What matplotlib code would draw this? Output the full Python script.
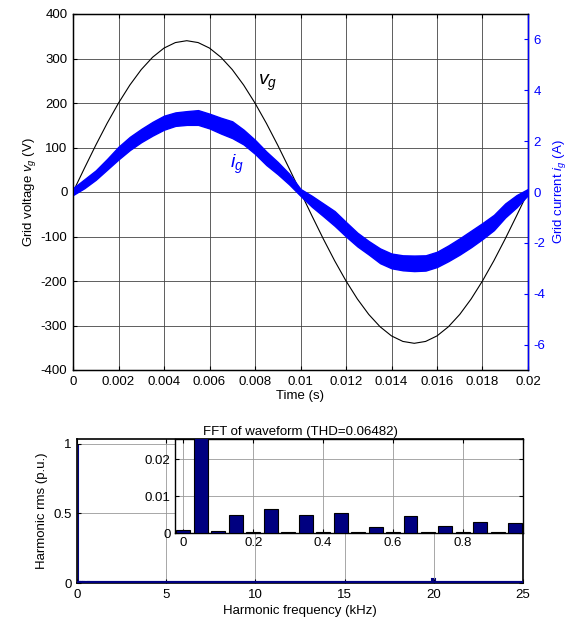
import matplotlib
matplotlib.use("Agg")
import matplotlib.pyplot as plt
import numpy as np

plt.rcParams['font.family'] = ['Liberation Sans', 'DejaVu Sans']
plt.rcParams['mathtext.fontset'] = 'custom'
plt.rcParams['mathtext.rm'] = 'Liberation Sans'
plt.rcParams['mathtext.it'] = 'Liberation Sans:italic'
plt.rcParams['font.size'] = 9.5
plt.rcParams['axes.unicode_minus'] = False

# ---------------- data ----------------
t = [0.0000, 0.0005, 0.0010, 0.0015, 0.0020, 0.0025, 0.0030, 0.0035, 0.0040, 0.0045,
     0.0050, 0.0055, 0.0060, 0.0065, 0.0070, 0.0075, 0.0080, 0.0085, 0.0090, 0.0095,
     0.0100, 0.0105, 0.0110, 0.0115, 0.0120, 0.0125, 0.0130, 0.0135, 0.0140, 0.0145,
     0.0150, 0.0155, 0.0160, 0.0165, 0.0170, 0.0175, 0.0180, 0.0185, 0.0190, 0.0195,
     0.0200]
v_grid = [0.0, 53.2, 105.1, 154.4, 199.8, 240.4, 275.1, 302.9, 323.4, 335.8,
          340.0, 335.8, 323.4, 302.9, 275.1, 240.4, 199.8, 154.4, 105.1, 53.2,
          0.0, -53.2, -105.1, -154.4, -199.8, -240.4, -275.1, -302.9, -323.4, -335.8,
          -340.0, -335.8, -323.4, -302.9, -275.1, -240.4, -199.8, -154.4, -105.1, -53.2,
          0.0]
i_upper = [0.15, 0.50, 0.85, 1.30, 1.78, 2.17, 2.48, 2.76, 3.00, 3.13,
           3.18, 3.22, 3.08, 2.92, 2.78, 2.45, 2.05, 1.59, 1.18, 0.72,
           0.12, -0.15, -0.45, -0.75, -1.18, -1.60, -1.93, -2.22, -2.42, -2.49,
           -2.50, -2.49, -2.35, -2.10, -1.82, -1.52, -1.22, -0.90, -0.45, -0.12,
           0.12]
i_lower = [-0.12, 0.15, 0.48, 0.88, 1.28, 1.65, 1.96, 2.22, 2.45, 2.60,
           2.64, 2.64, 2.50, 2.30, 2.12, 1.87, 1.50, 1.06, 0.70, 0.30,
           -0.15, -0.58, -0.95, -1.33, -1.75, -2.14, -2.46, -2.80, -3.00, -3.08,
           -3.11, -3.09, -2.95, -2.72, -2.46, -2.17, -1.85, -1.50, -1.00, -0.60,
           -0.12]

# harmonic spectrum (kHz, p.u. of fundamental)
harm_freq = [0.00, 0.05, 0.10, 0.15, 0.20, 0.25, 0.30, 0.35, 0.40, 0.45,
             0.50, 0.55, 0.60, 0.65, 0.70, 0.75, 0.80, 0.85, 0.90, 0.95]
harm_mag = [0.0009, 1.0, 0.0006, 0.0048, 0.0002, 0.0066, 0.0002, 0.0048, 0.0002, 0.0053,
            0.0002, 0.0017, 0.0002, 0.0045, 0.0002, 0.0020, 0.0002, 0.0031, 0.0002, 0.0028]
switch_freq = [20.0]
switch_mag = [0.03]

time_ticks = [0, 0.002, 0.004, 0.006, 0.008, 0.01, 0.012, 0.014, 0.016, 0.018, 0.02]
time_ticklabels = ['0', '0.002', '0.004', '0.006', '0.008', '0.01', '0.012', '0.014', '0.016', '0.018', '0.02']
v_ticks = [-400, -300, -200, -100, 0, 100, 200, 300, 400]
i_ticks = [-6, -4, -2, 0, 2, 4, 6]
title_fft = 'FFT of waveform (THD=0.06482)'

BLUE = '#0000ff'
NAVY = '#000080'

W, H = 570, 622
fig = plt.figure(figsize=(W / 100, H / 100), dpi=100)

def fr(l, t_, r, b):
    return [l / W, 1 - b / H, (r - l) / W, (b - t_) / H]

# ---------------- top plot ----------------
ax1 = fig.add_axes(fr(73, 14, 528, 370))
ax1.plot(t, v_grid, color='k', lw=0.8)
ax1.set_xlim(0, 0.02)
ax1.set_ylim(-400, 400)
ax1.set_xticks(time_ticks)
ax1.set_xticklabels(time_ticklabels)
ax1.set_yticks(v_ticks)
ax1.grid(True, color='#444444', lw=0.6)
ax1.tick_params(direction='in', length=3, top=True, pad=4)
ax1.set_xlabel('Time (s)', labelpad=2)
ax1.set_ylabel(r'Grid voltage $v_g$ (V)', labelpad=2)
for s in ax1.spines.values():
    s.set_linewidth(1.0)

ax2 = ax1.twinx()
ax2.fill_between(t, i_lower, i_upper, color=BLUE, lw=1.0, edgecolor=BLUE)
ax2.set_ylim(-7, 7)
ax2.set_yticks(i_ticks)
ax2.tick_params(direction='in', length=3, colors=BLUE, pad=4)
ax2.spines['right'].set_color(BLUE)
ax2.spines['right'].set_linewidth(1.0)
ax2.set_ylabel(r'Grid current $i_g$ (A)', color=BLUE, labelpad=4)

ax1.text(0.00813, 245, r'$v_g$', fontsize=14, ha='left', va='center')
ax2.text(0.0069, 1.1, r'$i_g$', fontsize=14, color=BLUE, ha='left', va='center')

# ---------------- bottom plot ----------------
ax3 = fig.add_axes(fr(77, 439, 523, 583))
ax3.bar(harm_freq, harm_mag, width=0.04, color=NAVY, edgecolor=NAVY, lw=1.5)
ax3.bar(switch_freq, switch_mag, width=0.15, color=NAVY, edgecolor=NAVY, lw=1.5)
ax3.axhline(0, color=NAVY, lw=3, zorder=3)
ax3.set_xlim(0, 25)
ax3.set_ylim(0, 1.035)
ax3.set_xticks([0, 5, 10, 15, 20, 25])
ax3.set_yticks([0, 0.5, 1])
ax3.set_yticklabels(['0', '0.5', '1'])
ax3.grid(True, color='#999999', lw=0.6)
ax3.tick_params(direction='in', length=3, top=True, right=True, pad=4)
ax3.set_xlabel('Harmonic frequency (kHz)', labelpad=3)
ax3.set_ylabel('Harmonic rms (p.u.)', labelpad=4)
ax3.set_title(title_fft, fontsize=9.5, pad=3)
for s in ax3.spines.values():
    s.set_linewidth(1.2)

ax4 = fig.add_axes(fr(174.7, 439, 523, 533))
ax4.bar(harm_freq, harm_mag, width=0.04, color=NAVY, edgecolor='k', lw=0.8, zorder=3)
ax4.set_xlim(-0.025, 0.972)
ax4.set_ylim(0, 0.0255)
ax4.set_xticks([0, 0.2, 0.4, 0.6, 0.8])
ax4.set_xticklabels(['0', '0.2', '0.4', '0.6', '0.8'])
ax4.set_yticks([0, 0.01, 0.02])
ax4.set_yticklabels(['0', '0.01', '0.02'])
ax4.grid(True, color='#999999', lw=0.6)
ax4.tick_params(direction='in', length=3, top=True, right=True, pad=3)
for s in ax4.spines.values():
    s.set_linewidth(1.0)

fig.savefig('out.png', dpi=100)
